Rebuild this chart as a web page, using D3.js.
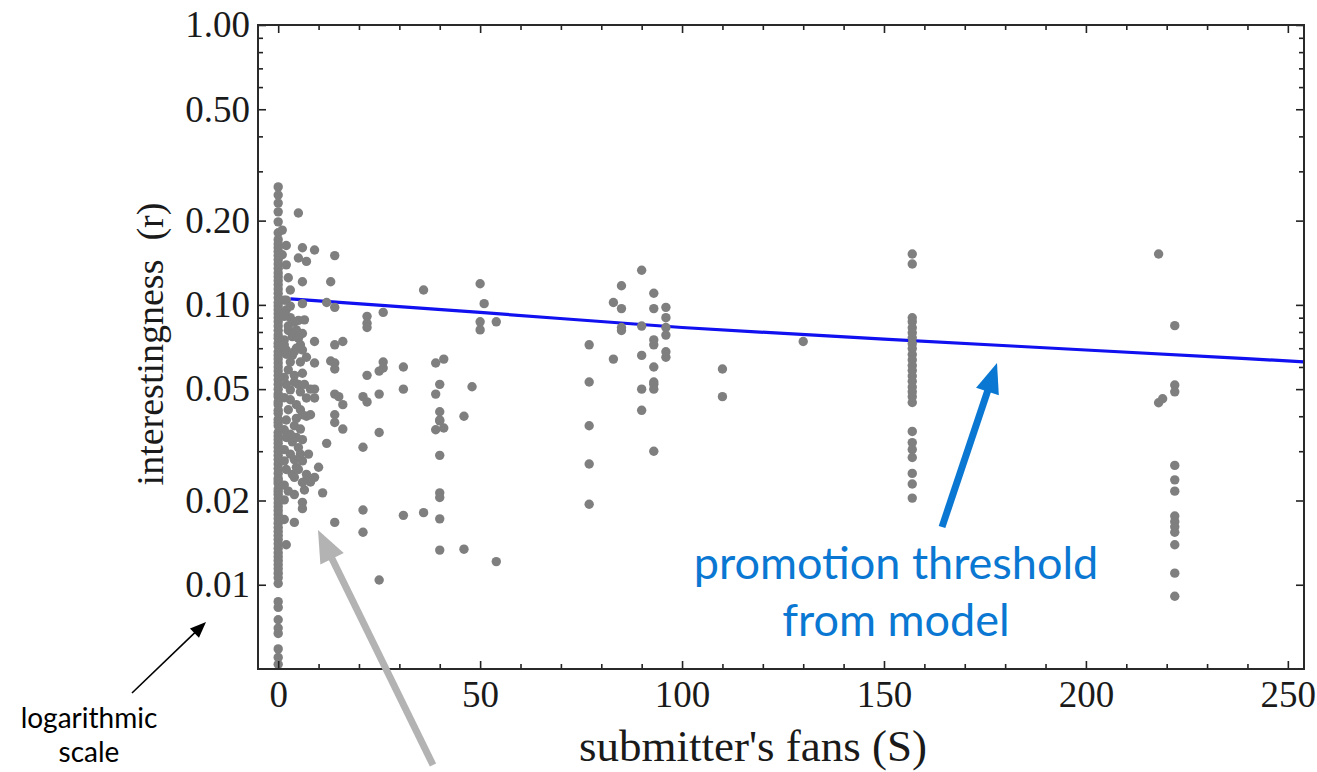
<!DOCTYPE html>
<html>
<head>
<meta charset="utf-8">
<script src="https://cdn.jsdelivr.net/npm/d3@7"></script>
<style>
  html, body { margin: 0; padding: 0; background: #fff; }
  svg { display: block; }
</style>
</head>
<body>
<svg id="chart" width="1317" height="772"></svg>
<script>
// ---------------- data ----------------
const xMajorTicks = [0, 50, 100, 150, 200, 250];
const xMinorTicks = [10, 20, 30, 40, 60, 70, 80, 90, 110, 120, 130, 140, 160, 170, 180, 190, 210, 220, 230, 240];
const yMajorTicks = [1, 0.5, 0.2, 0.1, 0.05, 0.02, 0.01];
const yTickLabels = ["1.00", "0.50", "0.20", "0.10", "0.05", "0.02", "0.01"];
const yMinorTicks = [0.9, 0.8, 0.7, 0.6, 0.4, 0.3, 0.09, 0.08, 0.07, 0.06, 0.04, 0.03];

// submitters with zero fans (S = 0): interestingness values
const zeroFansR = [0.264, 0.247, 0.231, 0.215, 0.198, 0.181, 0.171, 0.165, 0.16, 0.155, 0.15, 0.145, 0.14, 0.135,
  0.13, 0.126, 0.122, 0.118, 0.114, 0.11, 0.106, 0.102, 0.099, 0.096, 0.093, 0.09, 0.087, 0.084, 0.081, 0.078,
  0.076, 0.073, 0.071, 0.068, 0.066, 0.064, 0.062, 0.06, 0.058, 0.056, 0.054, 0.052, 0.05, 0.048, 0.047, 0.045,
  0.044, 0.042, 0.041, 0.039, 0.038, 0.037, 0.035, 0.034, 0.033, 0.032, 0.031, 0.03, 0.029, 0.028, 0.027, 0.026,
  0.025, 0.024, 0.0235, 0.023, 0.022, 0.0215, 0.021, 0.0203, 0.0196, 0.019, 0.0184, 0.0178, 0.0172, 0.0166, 0.016,
  0.0155, 0.015, 0.0145, 0.014, 0.0135, 0.013, 0.0126, 0.0122, 0.0118, 0.0114, 0.011, 0.0106, 0.0101, 0.0087,
  0.0083, 0.0075, 0.0070, 0.0067, 0.0059, 0.0055, 0.0052];

// [fans S, interestingness r] for submitters with few fans
const fewFans = [[5,0.213],[6,0.16],[9,0.157],[5,0.147],[7,0.143],[14,0.150],[6,0.121],[13,0.121],[12,0.102],
  [14,0.098],[6,0.101],[22,0.091],[22,0.086],[22,0.083],[26,0.094],[36,0.113],[50,0.119],[51,0.101],[50,0.087],
  [50,0.0814],[54,0.087],[6,0.079],[9,0.074],[14,0.072],[16,0.074],[6,0.069],[9,0.062],[7,0.065],[13,0.063],
  [14,0.062],[14,0.059],[22,0.056],[26,0.0625],[25,0.058],[26,0.0595],[31,0.06],[39,0.062],[41,0.064],[31,0.05],
  [40,0.052],[48,0.051],[8,0.05],[9,0.05],[9,0.0465],[7,0.0465],[14,0.048],[15,0.047],[16,0.044],[21,0.047],
  [22,0.045],[25,0.048],[39,0.048],[14,0.0405],[14,0.038],[16,0.036],[7,0.04],[8,0.0405],[25,0.035],[40,0.0415],
  [40,0.0388],[39,0.0358],[41,0.0363],[40,0.0385],[46,0.04],[12,0.032],[21,0.031],[40,0.029],[10,0.0263],
  [9,0.0242],[7,0.0237],[6,0.0232],[4,0.0242],[11,0.0213],[4,0.021],[6,0.0197],[6,0.0187],[4,0.0167],[14,0.0167],
  [21,0.0185],[21,0.0154],[31,0.0177],[36,0.0181],[40,0.0213],[40,0.0205],[40,0.0172],[40,0.0133],[46,0.0134],
  [54,0.0121],[25,0.0104],[2,0.0139],
  [2,0.139],[2.5,0.125],[3,0.113],[2,0.096],[3,0.09],[4,0.087],[5,0.088],[2.5,0.081],[3.5,0.077],[5,0.076],
  [2,0.069],[3.5,0.066],[4.5,0.07],[5.5,0.0625],[2.5,0.0586],[4,0.056],[6,0.057],[2,0.052],[3,0.0497],[5,0.052],
  [3,0.0458],[4.5,0.044],[5.5,0.0422],[2,0.0388],[4,0.037],[5.5,0.036],[2,0.0336],[3.5,0.0324],[5,0.0309],
  [3,0.0293],[4,0.028],[6,0.0277],[2,0.0258],[3.5,0.0248],[7,0.0248],[8,0.0233],[1.5,0.104],[2,0.163],[1,0.185],
  [1,0.151],[1.5,0.075],
  [1.5,0.091],[2.5,0.084],[4.5,0.0814],[1.5,0.072],[3,0.0625],[1.5,0.055],[4,0.053],[5.5,0.0489],[1.5,0.0466],
  [2.5,0.0422],[4.5,0.0393],[1.5,0.0358],[3,0.0345],[4.5,0.0336],[1.5,0.0304],[5.5,0.0293],[1.5,0.0277],
  [4.5,0.0263],[1.5,0.0227],[2.5,0.0216],[1.5,0.0201],[1.5,0.0171],[6.5,0.0884],[6.5,0.052],[6,0.0405],[6,0.033],
  [7.5,0.0293],[5,0.0258],[6.5,0.0218],[2,0.0666],[4,0.068],[5.5,0.072],[2,0.104],[3,0.099]];

// [fans S, interestingness r] for submitters with 75-135 fans
const midFans = [[90,0.133],[85,0.117],[93,0.11],[83,0.102],[85,0.097],[93,0.097],[96,0.098],[96,0.09],[85,0.083],
  [85,0.081],[90,0.084],[96,0.083],[96,0.078],[93,0.075],[93,0.072],[77,0.072],[83,0.064],[90,0.066],[96,0.068],
  [96,0.065],[93,0.06],[93,0.053],[93,0.052],[93,0.05],[90,0.05],[77,0.053],[110,0.059],[110,0.047],[90,0.042],
  [77,0.037],[93,0.03],[77,0.027],[77,0.0194],[130,0.074]];

// columns of submitters with many fans
const fans157R = [0.152, 0.140, 0.0899, 0.087, 0.0828, 0.0795, 0.0763, 0.0727, 0.0698, 0.0665, 0.0636, 0.0607,
  0.0583, 0.0557, 0.0533, 0.0509, 0.0489, 0.047, 0.0448, 0.0353, 0.0322, 0.0304, 0.0285, 0.025, 0.0229, 0.0204];
const fans218R = [0.152, 0.0447, 0.0462];
const fans222R = [0.0843, 0.0517, 0.0489, 0.0267, 0.0237, 0.0216, 0.0176, 0.0168, 0.0161, 0.0154, 0.0139, 0.011, 0.0091];

// model promotion threshold
const thresholdS = [3, 50, 100, 150, 200, 254];
const thresholdR = [0.105, 0.094, 0.083, 0.0755, 0.069, 0.0626];

// ---------------- chart ----------------
const svg = d3.select("#chart");
const L = 258, R = 1304, T = 25, B = 669;
const x = d3.scaleLinear().domain([-5, 254]).range([L, R]);
const y = d3.scaleLog().domain([0.005, 1]).range([B, T]);

const points = []
  .concat(zeroFansR.map(r => [0, r]))
  .concat(fewFans)
  .concat(midFans)
  .concat(fans157R.map(r => [157, r]))
  .concat(fans218R.map((r, i) => [i === 2 ? 219 : 218, r]))
  .concat(fans222R.map(r => [222, r]));

svg.append("defs").append("clipPath").attr("id", "clip")
  .append("rect").attr("x", L).attr("y", T).attr("width", R - L).attr("height", B - T);

const plot = svg.append("g").attr("clip-path", "url(#clip)");

// threshold line
plot.append("path")
  .datum(thresholdS.map((s, i) => [s, thresholdR[i]]))
  .attr("fill", "none")
  .attr("stroke", "#1010f0")
  .attr("stroke-width", 3.2)
  .attr("d", d3.line().x(d => x(d[0])).y(d => y(d[1])).curve(d3.curveMonotoneX));

// points
plot.append("g").selectAll("circle").data(points).join("circle")
  .attr("cx", d => x(d[0])).attr("cy", d => y(d[1])).attr("r", 4.7)
  .attr("fill", "#7f7f7f");

// axes
const fontSerif = "'Liberation Serif', 'Times New Roman', serif";
function styleAxis(g) {
  g.select(".domain").remove();
  g.selectAll(".tick line").attr("stroke", "#222").attr("stroke-width", 1.6);
  g.selectAll("text").attr("fill", "#1a1a1a").style("font-family", fontSerif).style("font-size", "37px");
}
const labelMap = new Map(yMajorTicks.map((v, i) => [v, yTickLabels[i]]));

svg.append("g").attr("transform", `translate(${L},0)`)
  .call(d3.axisLeft(y).tickValues(yMajorTicks).tickFormat(d => labelMap.get(d)).tickSizeInner(-8).tickSizeOuter(0).tickPadding(8))
  .call(styleAxis);
svg.append("g").attr("transform", `translate(${L},0)`)
  .call(d3.axisLeft(y).tickValues(yMinorTicks).tickFormat("").tickSizeInner(-5).tickSizeOuter(0))
  .call(styleAxis);
svg.append("g").attr("transform", `translate(${R},0)`)
  .call(d3.axisRight(y).tickValues(yMajorTicks).tickFormat("").tickSizeInner(-8).tickSizeOuter(0))
  .call(styleAxis);
svg.append("g").attr("transform", `translate(${R},0)`)
  .call(d3.axisRight(y).tickValues(yMinorTicks).tickFormat("").tickSizeInner(-5).tickSizeOuter(0))
  .call(styleAxis);

svg.append("g").attr("transform", `translate(0,${B})`)
  .call(d3.axisBottom(x).tickValues(xMajorTicks).tickFormat(d3.format("d")).tickSizeInner(-8).tickSizeOuter(0).tickPadding(12))
  .call(styleAxis);
svg.append("g").attr("transform", `translate(0,${B})`)
  .call(d3.axisBottom(x).tickValues(xMinorTicks).tickFormat("").tickSizeInner(-5).tickSizeOuter(0))
  .call(styleAxis);
svg.append("g").attr("transform", `translate(0,${T})`)
  .call(d3.axisTop(x).tickValues(xMajorTicks).tickFormat("").tickSizeInner(-8).tickSizeOuter(0))
  .call(styleAxis);
svg.append("g").attr("transform", `translate(0,${T})`)
  .call(d3.axisTop(x).tickValues(xMinorTicks).tickFormat("").tickSizeInner(-5).tickSizeOuter(0))
  .call(styleAxis);

// frame
svg.append("rect").attr("x", L).attr("y", T).attr("width", R - L).attr("height", B - T)
  .attr("fill", "none").attr("stroke", "#2a2a2a").attr("stroke-width", 2);

// axis titles
svg.append("text").attr("transform", "translate(163,344) rotate(-90)")
  .attr("text-anchor", "middle").style("font-family", fontSerif).style("font-size", "38px")
  .attr("fill", "#1a1a1a").attr("xml:space", "preserve").text("interestingness  (r)");
svg.append("text").attr("x", 753).attr("y", 761)
  .attr("text-anchor", "middle").style("font-family", fontSerif).style("font-size", "45px")
  .attr("fill", "#1a1a1a").text("submitter's fans (S)");

// annotations
function arrow(x1, y1, x2, y2, color, width, headLen, headW) {
  const ang = Math.atan2(y2 - y1, x2 - x1);
  const bx = x2 - headLen * Math.cos(ang), by = y2 - headLen * Math.sin(ang);
  svg.append("line").attr("x1", x1).attr("y1", y1).attr("x2", bx + 2 * Math.cos(ang)).attr("y2", by + 2 * Math.sin(ang))
    .attr("stroke", color).attr("stroke-width", width);
  const px = -Math.sin(ang), py = Math.cos(ang);
  svg.append("polygon")
    .attr("points", [[x2, y2], [bx + px * headW / 2, by + py * headW / 2], [bx - px * headW / 2, by - py * headW / 2]].map(p => p.join(",")).join(" "))
    .attr("fill", color);
}
arrow(132, 693, 206, 622, "#000", 1.6, 16, 13);
arrow(433, 765, 318, 530, "#b3b3b3", 7, 32, 26);
arrow(942, 527, 997, 363, "#0a78d2", 7, 30, 24);

const fontSans = "Lato, 'Open Sans', sans-serif";
svg.append("text").attr("x", 896).attr("y", 579).attr("text-anchor", "middle")
  .style("font-family", fontSans).style("font-size", "45px").attr("fill", "#0a78d2").text("promotion threshold");
svg.append("text").attr("x", 896).attr("y", 636).attr("text-anchor", "middle")
  .style("font-family", fontSans).style("font-size", "45px").attr("fill", "#0a78d2").text("from model");
svg.append("text").attr("x", 89).attr("y", 728).attr("text-anchor", "middle")
  .style("font-family", fontSans).style("font-size", "28px").attr("fill", "#000").text("logarithmic");
svg.append("text").attr("x", 89).attr("y", 762).attr("text-anchor", "middle")
  .style("font-family", fontSans).style("font-size", "28px").attr("fill", "#000").text("scale");
</script>
</body>
</html>
